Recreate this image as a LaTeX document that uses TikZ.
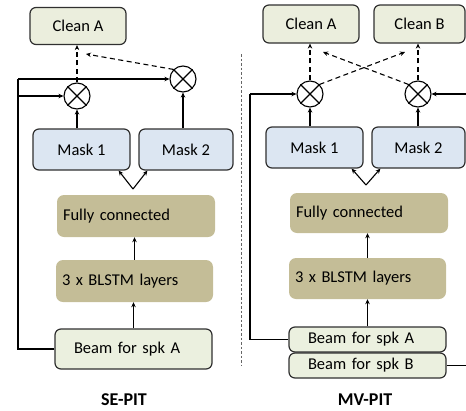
\documentclass[tikz,border=0pt]{standalone}
\usepackage{fontspec}
\setmainfont{Carlito}
\usetikzlibrary{arrows.meta}
\definecolor{cleanfill}{HTML}{EBEEDD}
\definecolor{beamfill}{HTML}{EBF0DF}
\definecolor{maskfill}{HTML}{DCE6F2}
\definecolor{tanfill}{HTML}{C4BD97}
\definecolor{edge}{HTML}{303030}
\tikzset{
  txt/.style={font=\fontsize{16.5}{19}\selectfont},
  cleanbox/.style={txt, draw=edge, line width=1.2pt, fill=cleanfill, rounded corners=6pt, inner sep=0pt},
  maskbox/.style={txt, draw=edge, line width=1.2pt, fill=maskfill, rounded corners=6pt, inner sep=0pt},
  tanbox/.style={txt, fill=tanfill, rounded corners=7pt, inner xsep=6pt, inner ysep=0pt, align=left},
  beambox/.style={txt, draw=edge, line width=1.2pt, fill=beamfill, rounded corners=6pt, inner xsep=19pt, inner ysep=0pt, align=left},
  mult/.style={circle, draw=black, line width=1.1pt, minimum size=26pt, inner sep=0pt},
  arr/.style={line width=1.1pt, -{Stealth[length=5pt,width=4.5pt]}},
  darr/.style={arr, dash pattern=on 5pt off 3.5pt},
  loopline/.style={line width=1.8pt},
  caption/.style={font=\fontsize{18}{20}\selectfont\bfseries}
}
\begin{document}
\begin{tikzpicture}[x=1pt,y=-1pt]
\useasboundingbox (0,0) rectangle (466,410);
% ---------- left panel: SE-PIT ----------
\node[cleanbox, minimum width=96pt, minimum height=37pt] (cleanL) at (78,26) {Clean A};
\node[maskbox, minimum width=97pt, minimum height=41pt] (m1L) at (81.5,149.5) {Mask 1};
\node[maskbox, minimum width=94pt, minimum height=41pt] (m2L) at (186,149.5) {Mask 2};
\node[tanbox, text width=146pt, minimum height=42pt] (fcL) at (136,216) {Fully connected};
\node[tanbox, text width=145pt, minimum height=42pt] (blL) at (134.5,281) {3 x BLSTM layers};
\node[beambox, text width=119pt, minimum height=40pt] (beamL) at (133.5,349) {Beam for spk A};
\node[mult] (oL1) at (77,96) {};
\node[mult] (oL2) at (183,79) {};
\foreach \o in {oL1,oL2}{
  \draw[line width=1.1pt] (\o.north east) -- (\o.south west) (\o.north west) -- (\o.south east);
}
\draw[arr] (m1L.north -| oL1) -- (oL1.south);
\draw[arr] (m2L.north -| oL2) -- (oL2.south);
\coordinate (apexL) at (133,189);
\draw[arr] (apexL) -- ([xshift=-12pt]m1L.south east);
\draw[arr] (apexL) -- ([xshift=9pt]m2L.south west);
\draw[arr] (blL.north) -- (blL.north |- fcL.south);
\draw[arr] (beamL.north) -- (beamL.north |- blL.south);
\coordinate (lcB) at (18,349);
\coordinate (lcT) at (18,79);
\coordinate (lcM) at (18,96);
\draw[loopline] (beamL.west) -- (lcB) -- (lcT);
\draw[arr] (lcT) -- (oL2.west);
\draw[arr] (lcM) -- (oL1.west);
\coordinate (dL) at (86,54);
\draw[darr] (oL1.north) -- (oL1.north |- cleanL.south);
\draw[darr] (oL2.north west) -- (dL);
\node[caption] (capL) at (124,400) {SE-PIT};
% ---------- divider ----------
\coordinate (divT) at (241,54);
\coordinate (divB) at (241,365);
\draw[gray!80!black, line width=0.6pt, dash pattern=on 2.5pt off 2pt] (divT) -- (divB);
% ---------- right panel: MV-PIT ----------
\node[cleanbox, minimum width=96pt, minimum height=38pt] (cleanRA) at (311,24) {Clean A};
\node[cleanbox, minimum width=91pt, minimum height=38pt] (cleanRB) at (419.5,24) {Clean B};
\node[maskbox, minimum width=97pt, minimum height=41pt] (m1R) at (314.5,147.5) {Mask 1};
\node[maskbox, minimum width=93pt, minimum height=41pt] (m2R) at (418.5,147.5) {Mask 2};
\node[tanbox, text width=146pt, minimum height=40pt] (fcR) at (369,213) {Fully connected};
\node[tanbox, text width=145pt, minimum height=41pt] (blR) at (367.5,278.5) {3 x BLSTM layers};
\node[beambox, text width=119pt, minimum height=25pt] (beamA) at (367.5,339.5) {Beam for spk A};
\node[beambox, text width=119pt, minimum height=25pt] (beamB) at (367.5,365.5) {Beam for spk B};
\node[mult] (oR1) at (310,94) {};
\node[mult] (oR2) at (418,94) {};
\foreach \o in {oR1,oR2}{
  \draw[line width=1.1pt] (\o.north east) -- (\o.south west) (\o.north west) -- (\o.south east);
}
\draw[arr] (m1R.north -| oR1) -- (oR1.south);
\draw[arr] (m2R.north -| oR2) -- (oR2.south);
\coordinate (apexR) at (366,185);
\draw[arr] (apexR) -- ([xshift=-12pt]m1R.south east);
\draw[arr] (apexR) -- ([xshift=9pt]m2R.south west);
\draw[arr] (blR.north) -- (blR.north |- fcR.south);
\draw[arr] (beamA.north) -- (beamA.north |- blR.south);
\coordinate (rcB) at (250,339.5);
\coordinate (rcT) at (250,94);
\draw[loopline] (beamA.west) -- (rcB) -- (rcT);
\draw[arr] (rcT) -- (oR1.west);
\coordinate (rrB) at (468,365.5);
\coordinate (rrT) at (468,94);
\draw[loopline] (beamB.east) -- (rrB) -- (rrT);
\draw[arr] (rrT) -- (oR2.east);
\coordinate (dRB) at (405,52);
\coordinate (dRA) at (323,52);
\draw[darr] (oR1.north) -- (oR1.north |- cleanRA.south);
\draw[darr] (oR2.north) -- (oR2.north |- cleanRB.south);
\draw[darr] (oR1.north east) -- (dRB);
\draw[darr] (oR2.north west) -- (dRA);
\node[caption] (capR) at (365,400) {MV-PIT};
\end{tikzpicture}
\end{document}
